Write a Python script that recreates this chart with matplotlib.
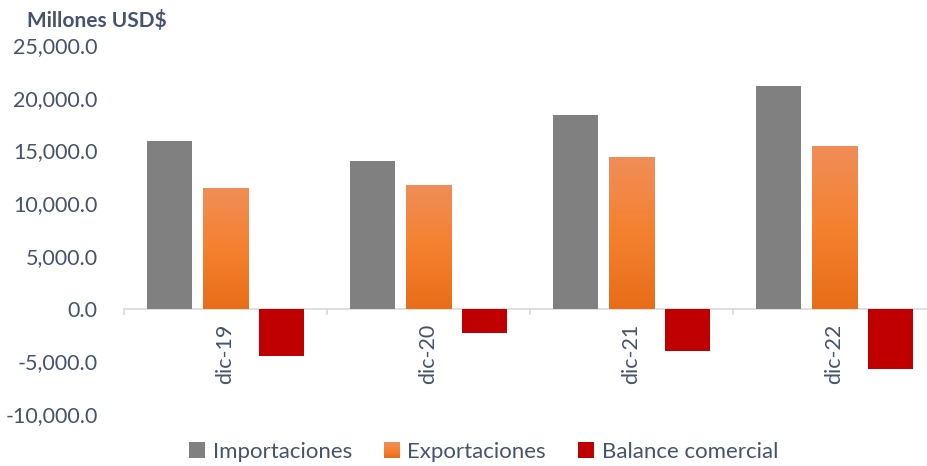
import matplotlib
matplotlib.use("Agg")
import matplotlib.pyplot as plt
import numpy as np
from matplotlib.colors import LinearSegmentedColormap
from matplotlib.patches import Rectangle
from matplotlib.legend_handler import HandlerBase
from matplotlib.ticker import FuncFormatter

categories = ["dic-19", "dic-20", "dic-21", "dic-22"]
importaciones = [15900, 14000, 18400, 21100]
exportaciones = [11400, 11700, 14400, 15400]
balance = [-4500, -2300, -4000, -5700]
series_names = ["Importaciones", "Exportaciones", "Balance comercial"]
yticks = [-10000, -5000, 0, 5000, 10000, 15000, 20000, 25000]

TXT = "#44546A"
GRAY = "#808080"
RED = "#C00000"
orange_cmap = LinearSegmentedColormap.from_list(
    "og", ["#E86D18", "#F4812F", "#F08E58"])

plt.rcParams["font.family"] = ["Lato", "DejaVu Sans"]

fig = plt.figure(figsize=(9.27, 4.66), dpi=100)
ax = fig.add_axes([124/927, 52/466, 812/927, 369/466])

x = np.arange(len(categories))
w = 0.224
off = 0.276
b1 = ax.bar(x - off, importaciones, w, color=GRAY, zorder=2)
b2 = ax.bar(x, exportaciones, w, color="none", zorder=2)
b3 = ax.bar(x + off, balance, w, color=RED, zorder=2)

grad = np.linspace(0, 1, 256).reshape(-1, 1)
for p in b2.patches:
    x0, y0 = p.get_x(), p.get_y()
    ax.imshow(grad, cmap=orange_cmap, origin="lower", aspect="auto",
              extent=[x0, x0 + p.get_width(), y0, y0 + p.get_height()],
              zorder=2)

ax.set_xlim(-0.5, len(categories) - 0.5)
ax.set_ylim(yticks[0], yticks[-1])
ax.set_yticks(yticks)
ax.yaxis.set_major_formatter(FuncFormatter(lambda v, pos: f"{v:,.1f}"))
ax.tick_params(axis="y", length=0, pad=19, labelsize=15.5, labelcolor=TXT)

for s in ["top", "right", "left", "bottom"]:
    ax.spines[s].set_visible(False)
ax.axhline(0, color="#D9D9D9", lw=1.2, zorder=1)

ax.set_xticks([])
for i in range(len(categories) + 1):
    ax.plot([i - 0.5, i - 0.5], [0, -550], color="#D9D9D9", lw=1.2,
            clip_on=False, zorder=1)
for i, c in enumerate(categories):
    ax.text(i, -1400, c, rotation=90, ha="center", va="top",
            fontsize=15.5, color=TXT)

fig.text(27/927, 1 - 20/466, "Millones USD$", fontsize=15, fontweight="bold",
         color=TXT, ha="left", va="center")


class GradHandler(HandlerBase):
    def create_artists(self, legend, orig, xd, yd, width, height, fontsize, trans):
        s = height
        arts = []
        n = 20
        for k in range(n):
            arts.append(Rectangle((xd + (width - s) / 2, yd + k * s / n), s, s / n + 0.2,
                                  facecolor=orange_cmap(k / (n - 1)), edgecolor="none",
                                  transform=trans))
        return arts


class SqHandler(HandlerBase):
    def create_artists(self, legend, orig, xd, yd, width, height, fontsize, trans):
        s = height
        return [Rectangle((xd + (width - s) / 2, yd), s, s,
                          facecolor=orig.get_facecolor(), edgecolor="none",
                          transform=trans)]


h1 = Rectangle((0, 0), 1, 1, facecolor=GRAY)
h2 = Rectangle((0, 0), 1, 1, facecolor="#F4812F")
h3 = Rectangle((0, 0), 1, 1, facecolor=RED)
fig.legend([h1, h2, h3], series_names, loc="center",
           bbox_to_anchor=(483/927, 1 - 452/466), ncol=3, frameon=False,
           fontsize=16, handler_map={h1: SqHandler(), h2: GradHandler(), h3: SqHandler()},
           handlelength=0.8, handleheight=0.7, handletextpad=0.3, columnspacing=1.4,
           labelcolor=TXT)

fig.savefig("out.png", dpi=100)
